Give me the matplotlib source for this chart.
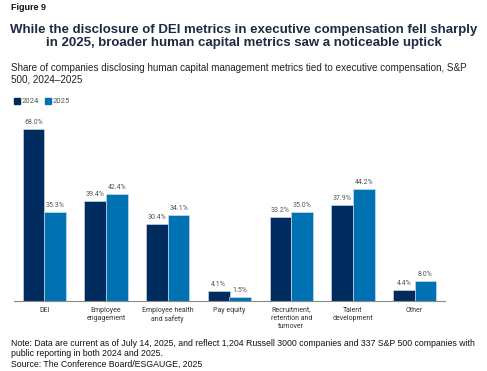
import matplotlib
matplotlib.use("Agg")
import numpy as np
import matplotlib.pyplot as plt
from matplotlib.patches import Rectangle

categories = ["DEI", "Employee\nengagement", "Employee health\nand safety", "Pay equity",
              "Recruitment,\nretention and\nturnover", "Talent\ndevelopment", "Other"]
vals_2024 = [68.0, 39.4, 30.4, 4.1, 33.2, 37.9, 4.4]
vals_2025 = [35.3, 42.4, 34.1, 1.5, 35.0, 44.2, 8.0]
years = ["2024", "2025"]

C24 = "#002B5F"
C25 = "#0071B3"
W, H = 487, 371

fig = plt.figure(figsize=(W / 100, H / 100), dpi=100)


def px(x, y):
    return x / W, 1 - y / H


# axes: x 13.5..445.5 px, y 115..301 px
ax = fig.add_axes([13.5 / W, 1 - 301 / H, 432 / W, 186 / H])
x = np.arange(len(categories))
bw = 0.35
ax.bar(x - bw / 2, vals_2024, bw, color=C24, edgecolor="#d8e4f0", linewidth=0.4)
ax.bar(x + bw / 2, vals_2025, bw, color=C25, edgecolor="#d8e4f0", linewidth=0.4)
for xi, v in zip(x, vals_2024):
    ax.text(xi - bw / 2, v + 1.2, f"{v:.1f}%", ha="center", va="bottom",
            fontsize=5, color="#555555", family="Roboto")
for xi, v in zip(x, vals_2025):
    ax.text(xi + bw / 2, v + 1.2, f"{v:.1f}%", ha="center", va="bottom",
            fontsize=5, color="#555555", family="Roboto")
ax.set_xlim(-0.5, 6.5)
ax.set_ylim(0, 73.4)
ax.set_xticks(x)
ax.set_xticklabels(categories, fontsize=5, family="Roboto", color="#333333", linespacing=1.25)
ax.tick_params(axis="x", length=0, pad=4)
ax.set_yticks([])
for s in ["top", "right", "left"]:
    ax.spines[s].set_visible(False)
ax.spines["bottom"].set_color("#888888")
ax.spines["bottom"].set_linewidth(0.8)

# texts
fig.text(*px(11, 8), "Figure 9", fontsize=6.5, fontweight="bold", family="Liberation Sans",
         va="center", color="#111111")
fig.text(*px(244, 36.5), "While the disclosure of DEI metrics in executive compensation fell sharply\n"
         "in 2025, broader human capital metrics saw a noticeable uptick",
         fontsize=9.5, fontweight="bold", family="Liberation Sans", ha="center", va="center",
         color="#1d2a44", linespacing=1.17)
fig.text(*px(11, 74), "Share of companies disclosing human capital management metrics tied to executive compensation, S&P\n"
         "500, 2024\u20132025", fontsize=7.1, family="Liberation Sans", va="center",
         color="#222222", linespacing=1.25)

# legend
for i, (lab, c) in enumerate(zip(years, [C24, C25])):
    x0 = 14 + i * 31
    fig.patches.append(Rectangle(px(x0, 104), 6 / W, 6 / H, transform=fig.transFigure,
                                 color=c, figure=fig))
    fig.text(*px(x0 + 8, 101), lab, fontsize=5.5, family="Roboto", va="center", color="#555555")

fig.text(*px(11, 354), "Note: Data are current as of July 14, 2025, and reflect 1,204 Russell 3000 companies and 337 S&P 500 companies with\n"
         "public reporting in both 2024 and 2025.\nSource: The Conference Board/ESGAUGE, 2025",
         fontsize=6.35, family="Liberation Sans", va="center", color="#111111", linespacing=1.2)

fig.savefig("out.png", dpi=100)
